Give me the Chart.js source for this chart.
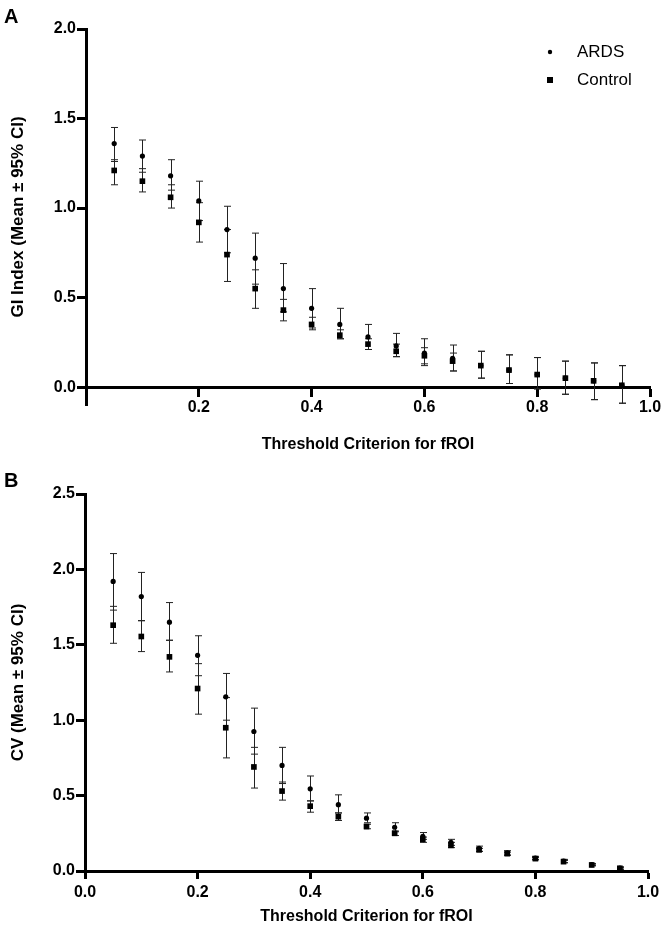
<!DOCTYPE html>
<html>
<head>
<meta charset="utf-8">
<title>GI Index e CV</title>
<script src="https://cdn.jsdelivr.net/npm/chart.js@4.4.1/dist/chart.umd.min.js"></script>
<style>
    body { margin: 0; background: #fff; }
    .pannello { position: relative; width: 666px; height: 467px; }
    .lettera {
        position: absolute; left: 4px;
        font: bold 20px "Liberation Sans", Arial, sans-serif;
        line-height: 20px; color: #000;
    }
</style>
</head>
<body>
<div class="pannello">
    <div class="lettera" style="top:6px">A</div>
    <canvas id="canvasA" width="666" height="467"></canvas>
</div>
<div class="pannello">
    <div class="lettera" style="top:3px">B</div>
    <canvas id="canvasB" width="666" height="467"></canvas>
</div>
<script>
// soglie (asse x)
let soglie = [0.05, 0.10, 0.15, 0.20, 0.25, 0.30, 0.35, 0.40, 0.45, 0.50, 0.55, 0.60, 0.65, 0.70, 0.75, 0.80, 0.85, 0.90, 0.95]

// pannello A - GI index (media, IC 95% basso, IC 95% alto)
let ardsGI   = [1.36, 1.29, 1.18, 1.04, 0.88, 0.72, 0.55, 0.44, 0.35, 0.28, 0.23, 0.19, 0.16, 0.12, 0.095, 0.07, 0.05, 0.035, 0.01]
let ardsGILo = [1.26, 1.20, 1.10, 0.93, 0.75, 0.575, 0.42, 0.33, 0.27, 0.21, 0.17, 0.12, 0.09, 0.05, 0.02, -0.01, -0.04, -0.07, -0.09]
let ardsGIHi = [1.45, 1.38, 1.27, 1.15, 1.01, 0.86, 0.69, 0.55, 0.44, 0.35, 0.30, 0.27, 0.235, 0.20, 0.18, 0.165, 0.145, 0.135, 0.12]
let ctrlGI   = [1.21, 1.15, 1.06, 0.92, 0.74, 0.55, 0.43, 0.35, 0.29, 0.24, 0.20, 0.175, 0.145, 0.12, 0.095, 0.07, 0.05, 0.035, 0.01]
let ctrlGILo = [1.13, 1.09, 1.00, 0.81, 0.59, 0.44, 0.37, 0.32, 0.27, 0.21, 0.17, 0.13, 0.09, 0.05, 0.02, -0.01, -0.04, -0.07, -0.09]
let ctrlGIHi = [1.27, 1.22, 1.13, 1.03, 0.88, 0.655, 0.49, 0.39, 0.32, 0.27, 0.24, 0.22, 0.19, 0.20, 0.18, 0.165, 0.145, 0.135, 0.12]

// pannello B - CV
let ardsCV   = [1.92, 1.82, 1.65, 1.43, 1.155, 0.925, 0.70, 0.545, 0.44, 0.35, 0.29, 0.23, 0.19, 0.15, 0.12, 0.086, 0.066, 0.042, 0.02]
let ardsCVLo = [1.73, 1.66, 1.53, 1.295, 1.00, 0.775, 0.58, 0.465, 0.385, 0.32, 0.26, 0.21, 0.17, 0.13, 0.105, 0.075, 0.055, 0.035, 0.012]
let ardsCVHi = [2.105, 1.98, 1.78, 1.56, 1.31, 1.08, 0.82, 0.63, 0.505, 0.385, 0.32, 0.255, 0.21, 0.165, 0.135, 0.097, 0.077, 0.05, 0.028]
let ctrlCV   = [1.63, 1.555, 1.42, 1.21, 0.95, 0.69, 0.53, 0.43, 0.36, 0.295, 0.25, 0.21, 0.17, 0.14, 0.115, 0.082, 0.062, 0.04, 0.018]
let ctrlCVLo = [1.51, 1.455, 1.32, 1.04, 0.75, 0.55, 0.47, 0.39, 0.335, 0.28, 0.235, 0.19, 0.155, 0.13, 0.105, 0.075, 0.055, 0.035, 0.012]
let ctrlCVHi = [1.755, 1.66, 1.53, 1.375, 1.15, 0.82, 0.59, 0.465, 0.385, 0.31, 0.265, 0.225, 0.19, 0.15, 0.125, 0.09, 0.07, 0.045, 0.024]

// etichette degli assi
let tickXA = [0.2, 0.4, 0.6, 0.8, 1.0]
let tickXB = [0.0, 0.2, 0.4, 0.6, 0.8, 1.0]
let tickYA = [0.0, 0.5, 1.0, 1.5, 2.0]
let tickYB = [0.0, 0.5, 1.0, 1.5, 2.0, 2.5]

const FONT = '"Liberation Sans", Arial, sans-serif'

function punti(xs, ys, lo, hi){
    let out = []
    for (let i = 0; i < xs.length; i++){
        out.push({x: xs[i], y: ys[i], lo: lo[i], hi: hi[i]})
    }
    return out
}

// barre di errore (IC 95%) disegnate con le scale del grafico
let barreErrore = {
    id: 'barreErrore',
    beforeDatasetsDraw(chart){
        let ctx = chart.ctx
        let sx = chart.scales.x
        let sy = chart.scales.y
        ctx.save()
        ctx.strokeStyle = '#222'
        ctx.lineWidth = 1
        for (let ds of chart.data.datasets){
            for (let p of ds.data){
                let px = Math.round(sx.getPixelForValue(p.x)) + 0.5
                let yLo = sy.getPixelForValue(p.lo)
                let yHi = sy.getPixelForValue(p.hi)
                ctx.beginPath()
                ctx.moveTo(px, yLo); ctx.lineTo(px, yHi)
                ctx.moveTo(px - 3.5, yLo); ctx.lineTo(px + 3.5, yLo)
                ctx.moveTo(px - 3.5, yHi); ctx.lineTo(px + 3.5, yHi)
                ctx.stroke()
            }
        }
        ctx.restore()
    }
}

// legenda dentro l'area del grafico, in alto a destra
let legendaInterna = {
    id: 'legendaInterna',
    afterDraw(chart, args, opts){
        if (!opts.display) return
        let ctx = chart.ctx
        let area = chart.chartArea
        ctx.save()
        ctx.fillStyle = '#000'
        ctx.font = '17px ' + FONT
        ctx.textBaseline = 'middle'
        chart.data.datasets.forEach((ds, i) => {
            let mx = area.right - 100
            let my = area.top + 23 + i * 28
            if (ds.pointStyle === 'rect'){
                ctx.fillRect(mx - 3, my - 3, 6, 6)
            } else {
                ctx.beginPath()
                ctx.arc(mx, my, 2.2, 0, Math.PI * 2)
                ctx.fill()
            }
            ctx.fillText(ds.label, area.right - 73, my)
        })
        ctx.restore()
    }
}

function disegnaPannello(canvas, cfg){
    let assi = {
        x: {
            type: 'linear',
            min: 0, max: 1,
            position: cfg.xPos,
            afterBuildTicks: s => { s.ticks = cfg.tickX.map(v => ({value: v})) },
            afterFit: s => { if (cfg.xPos === 'bottom') s.height = 63 },
            grid: { drawOnChartArea: false, drawTicks: true, tickLength: 8, tickWidth: 3, tickColor: '#000' },
            border: { display: true, width: 3, color: '#000' },
            ticks: {
                color: '#000', padding: cfg.padTickX, maxRotation: 0,
                font: { family: FONT, size: 16, weight: 'bold' },
                callback: v => v.toFixed(1)
            },
            title: {
                display: true, text: 'Threshold Criterion for fROI', color: '#000',
                font: { family: FONT, size: 16, weight: 'bold' },
                padding: { top: cfg.padTitoloX, bottom: 8 }
            }
        },
        y: {
            type: 'linear',
            min: cfg.yMin, max: cfg.yMax,
            afterBuildTicks: s => { s.ticks = cfg.tickY.map(v => ({value: v})) },
            afterFit: s => { s.width = cfg.sinistra },
            grid: { drawOnChartArea: false, drawTicks: true, tickLength: 9, tickWidth: 3, tickColor: '#000' },
            border: { display: true, width: 3, color: '#000' },
            ticks: {
                color: '#000', padding: 1,
                font: { family: FONT, size: 16, weight: 'bold' },
                callback: v => v.toFixed(1)
            },
            title: {
                display: true, text: cfg.titoloY, color: '#000',
                font: { family: FONT, size: 17, weight: 'bold' },
                padding: { top: 8, bottom: 0 }
            }
        }
    }

    return new Chart(canvas, {
        type: 'scatter',
        data: {
            datasets: [
                {
                    label: 'ARDS',
                    data: punti(soglie, cfg.ards, cfg.ardsLo, cfg.ardsHi),
                    pointStyle: 'circle', pointRadius: 2.6,
                    backgroundColor: '#000', borderColor: '#000', borderWidth: 0,
                    clip: false
                },
                {
                    label: 'Control',
                    data: punti(soglie, cfg.ctrl, cfg.ctrlLo, cfg.ctrlHi),
                    pointStyle: 'rect', pointRadius: 4,
                    backgroundColor: '#000', borderColor: '#000', borderWidth: 0,
                    clip: false
                }
            ]
        },
        options: {
            responsive: false,
            animation: false,
            events: [],
            layout: { padding: { top: cfg.sopra, right: cfg.destra, bottom: cfg.sotto, left: 0 } },
            scales: assi,
            plugins: {
                legend: { display: false },
                tooltip: { enabled: false },
                legendaInterna: { display: cfg.legenda }
            }
        },
        plugins: [barreErrore, legendaInterna]
    })
}

window.onload = () => {
    disegnaPannello(document.getElementById('canvasA'), {
        ards: ardsGI, ardsLo: ardsGILo, ardsHi: ardsGIHi,
        ctrl: ctrlGI, ctrlLo: ctrlGILo, ctrlHi: ctrlGIHi,
        tickX: tickXA, tickY: tickYA,
        yMin: -0.1, yMax: 2.0,
        xPos: { y: 0 },
        padTickX: 3, padTitoloX: 15,
        titoloY: 'GI Index (Mean ± 95% CI)',
        sinistra: 86, sopra: 29, destra: 16, sotto: 62,
        legenda: true
    })

    disegnaPannello(document.getElementById('canvasB'), {
        ards: ardsCV, ardsLo: ardsCVLo, ardsHi: ardsCVHi,
        ctrl: ctrlCV, ctrlLo: ctrlCVLo, ctrlHi: ctrlCVHi,
        tickX: tickXB, tickY: tickYB,
        yMin: 0, yMax: 2.5,
        xPos: 'bottom',
        padTickX: 4, padTitoloX: 0,
        titoloY: 'CV (Mean ± 95% CI)',
        sinistra: 85, sopra: 27, destra: 18, sotto: 0,
        legenda: false
    })
}
</script>
</body>
</html>
